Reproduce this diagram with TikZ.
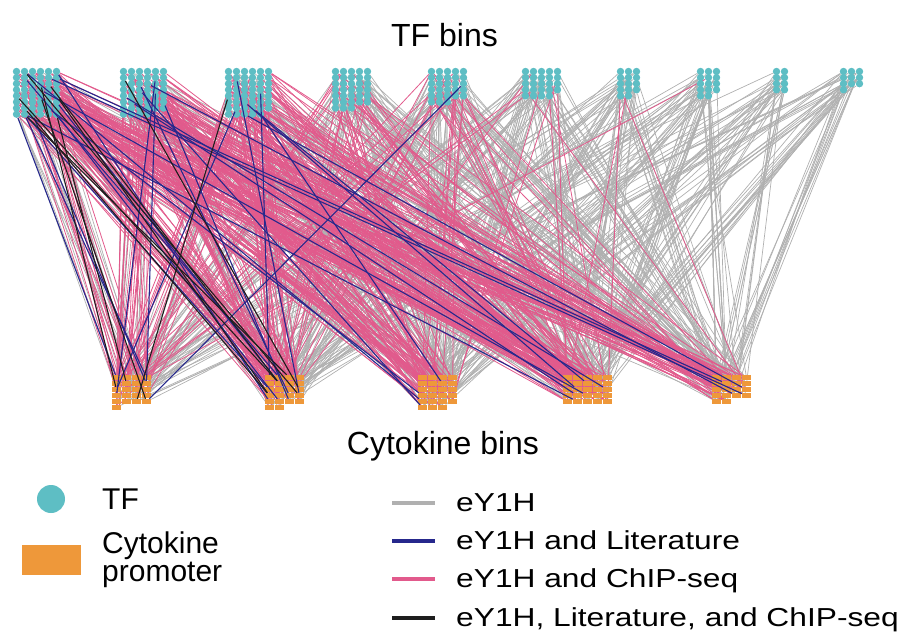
\documentclass[tikz,border=0pt]{standalone}
\usepackage{fontspec}
\setmainfont{Liberation Sans}
\newfontfamily\legfont{Liberation Sans}[FakeStretch=1.22]
\pgfdeclarelayer{grayl}
\pgfdeclarelayer{pinkl}
\pgfdeclarelayer{topl}
\pgfsetlayers{grayl,pinkl,main,topl}
\definecolor{tfcyan}{RGB}{94,190,196}
\definecolor{cyorange}{RGB}{238,152,58}
\definecolor{egray}{RGB}{176,176,176}
\definecolor{epink}{RGB}{226,90,140}
\definecolor{eblue}{RGB}{38,40,140}
\definecolor{eblack}{RGB}{30,30,30}
\tikzset{
  tfdot/.style={circle, fill=tfcyan, inner sep=0pt, minimum size=7.4pt},
  cyrect/.style={rectangle, fill=cyorange, inner sep=0pt, minimum width=9pt, minimum height=5.4pt},
  grayedge/.style={draw=egray, line width=0.7pt},
  pinkedge/.style={draw=epink, line width=0.8pt},
  blueedge/.style={draw=eblue, line width=1.1pt},
  blackedge/.style={draw=eblack, line width=1.1pt},
  titletext/.style={font=\fontsize{32}{38}\selectfont, inner sep=0pt, anchor=base},
  legtext/.style={font=\fontsize{30}{28}\selectfont, inner sep=0pt, anchor=base west},
  legtextr/.style={font=\legfont\fontsize{26}{28}\selectfont, inner sep=0pt, anchor=base west},
  legline/.style={line width=3.5pt}
}
\begin{document}
\begin{tikzpicture}[x=1pt,y=-1pt]
\useasboundingbox (0,0) rectangle (920,644);
\pgfmathsetseed{4242}
\def\tfn{{48,46,47,33,28,24,14,14,8,10}}
\def\cyn{{21,22,23,25,18}}
% TF bins
\foreach \b/\x/\cols/\n in {1/16.5/6/48, 2/123.5/6/46, 3/228.5/6/47, 4/335.5/5/33, 5/431.5/5/28, 6/525.5/5/24, 7/620.5/3/14, 8/700.5/3/14, 9/776.5/2/8, 10/843.5/3/10}{
  \foreach \k in {1,...,\n}{
    \pgfmathtruncatemacro\col{mod(\k-1,\cols)}
    \pgfmathtruncatemacro\row{div(\k-1,\cols)}
    \node[tfdot] (t-\b-\k) at ({\x+\col*8},{71.5+\row*6.1}) {};
  }
}
% Cytokine bins
\foreach \c/\x/\cols/\n in {1/116.5/4/21, 2/269.5/4/22, 3/422.5/4/23, 4/567.5/5/25, 5/716.5/4/18}{
  \foreach \k in {1,...,\n}{
    \pgfmathtruncatemacro\col{mod(\k-1,\cols)}
    \pgfmathtruncatemacro\row{div(\k-1,\cols)}
    \node[cyrect] (c-\c-\k) at ({\x+\col*10},{377.7+\row*6}) {};
  }
}
% gray and pink edges
\foreach \b/\c/\g/\p in {
 1/1/18/14, 1/2/12/36, 1/3/10/26, 1/4/10/36, 1/5/5/22,
 2/1/12/20, 2/2/12/22, 2/3/15/26, 2/4/15/32, 2/5/8/20,
 3/1/10/14, 3/2/12/20, 3/3/18/20, 3/4/18/26, 3/5/10/18,
 4/1/15/4, 4/2/18/7, 4/3/22/7, 4/4/22/11, 4/5/18/5,
 5/1/12/4, 5/2/18/5, 5/3/22/7, 5/4/22/8, 5/5/18/4,
 6/1/9/2, 6/2/15/1, 6/3/18/2, 6/4/18/3, 6/5/15/1,
 7/1/5/0, 7/2/9/0, 7/3/12/0, 7/4/15/2, 7/5/12/1,
 8/1/5/1, 8/2/8/0, 8/3/12/0, 8/4/15/0, 8/5/12/0,
 9/1/3/0, 9/2/5/0, 9/3/8/0, 9/4/9/0, 9/5/9/0,
 10/1/3/0, 10/2/6/0, 10/3/9/0, 10/4/12/0, 10/5/12/0}{
  \pgfmathtruncatemacro\nb{\tfn[\b-1]}
  \pgfmathtruncatemacro\nc{\cyn[\c-1]}
  \ifnum\g>0
    \begin{pgfonlayer}{grayl}
    \foreach \i in {1,...,\g}{
      \pgfmathrandominteger{\ra}{1}{\nb}
      \pgfmathrandominteger{\rb}{1}{\nc}
      \draw[grayedge] (t-\b-\ra) -- (c-\c-\rb);
    }
    \end{pgfonlayer}
  \fi
  \ifnum\p>0
    \begin{pgfonlayer}{pinkl}
    \foreach \i in {1,...,\p}{
      \pgfmathrandominteger{\ra}{1}{\nb}
      \pgfmathrandominteger{\rb}{1}{\nc}
      \draw[pinkedge] (t-\b-\ra) -- (c-\c-\rb);
    }
    \end{pgfonlayer}
  \fi
}
% blue and black edges
\begin{pgfonlayer}{topl}
\draw[blueedge] (t-1-43) -- (c-1-1);
\foreach \b/\c in {1/1,1/1,1/2,1/2,1/2,1/2,1/2,1/3,1/3,1/4,1/4,1/5,1/5,
  2/1,2/1,2/2,2/2,2/3,2/4,2/4,2/5,
  3/1,3/2,3/2,3/3,3/4,3/4,3/5,5/1}{
  \pgfmathtruncatemacro\nb{\tfn[\b-1]}
  \pgfmathtruncatemacro\nc{\cyn[\c-1]}
  \pgfmathrandominteger{\ra}{1}{\nb}
  \pgfmathrandominteger{\rb}{1}{\nc}
  \draw[blueedge] (t-\b-\ra) -- (c-\c-\rb);
}
\foreach \b/\c in {1/1,1/1,1/1,1/2,1/2,1/2,1/2,1/2,1/2,2/2,3/1}{
  \pgfmathtruncatemacro\nb{\tfn[\b-1]}
  \pgfmathtruncatemacro\nc{\cyn[\c-1]}
  \pgfmathrandominteger{\ra}{1}{\nb}
  \pgfmathrandominteger{\rb}{1}{\nc}
  \draw[blackedge] (t-\b-\ra) -- (c-\c-\rb);
}
\end{pgfonlayer}
% titles
\node[titletext] (tftitle) at (444.5,46.5) {TF bins};
\node[titletext] (cytitle) at (443,454) {Cytokine bins};
% legend left
\node[tfdot, minimum size=28pt] (legtf) at (51,499) {};
\node[legtext] (legtftext) at (102,509) {TF};
\node[cyrect, minimum width=59pt, minimum height=30pt] (legcy) at (51.5,560) {};
\node[legtext] (legcytext) at (102,581) {\begin{tabular}[b]{@{}l@{}}Cytokine\\promoter\end{tabular}};
% legend right
\draw[legline, egray] (392,503) -- (435,503);
\draw[legline, eblue] (392,541) -- (435,541);
\draw[legline, epink] (392,579) -- (435,579);
\draw[legline, eblack] (392,618) -- (435,618);
\node[legtextr] (lg1) at (456,511) {eY1H};
\node[legtextr] (lg2) at (456,549) {eY1H and Literature};
\node[legtextr] (lg3) at (456,587.5) {eY1H and ChIP-seq};
\node[legtextr] (lg4) at (456,626) {eY1H, Literature, and ChIP-seq};
\end{tikzpicture}
\end{document}
